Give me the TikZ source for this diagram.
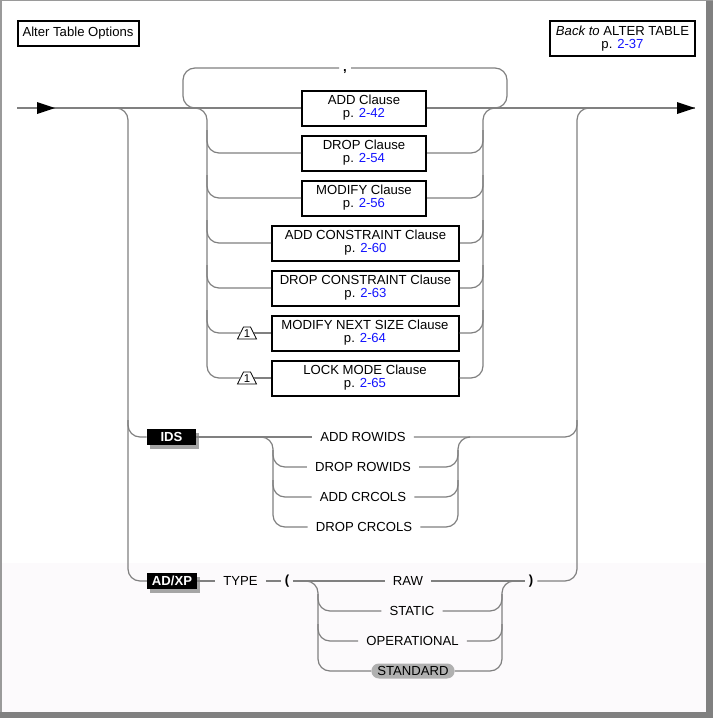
\documentclass[tikz,border=0pt]{standalone}
\usepackage{fontspec}
\setmainfont{Liberation Sans}
\usetikzlibrary{calc,shadows}
\definecolor{railc}{RGB}{128,128,128}
\definecolor{linkc}{RGB}{20,20,255}
\definecolor{framec}{RGB}{128,128,128}
\definecolor{pinkbg}{RGB}{252,250,252}
\definecolor{shadowc}{RGB}{165,165,165}
\definecolor{pillc}{RGB}{176,176,176}
\begin{document}
\begin{tikzpicture}[x=0.75pt,y=-0.75pt,
  every node/.style={font=\fontsize{9.85}{9.75}\selectfont, inner sep=0pt},
  rail/.style={draw=railc, line width=0.9pt, rounded corners=9pt},
  clause/.style={draw=black, line width=1.5pt, align=center, minimum height=26.25pt},
  lbl/.style={inner xsep=6pt},
  kw/.style={fill=black, text=white, font=\fontsize{9.85}{9.75}\selectfont\bfseries,
    minimum height=12pt, drop shadow={shadow xshift=2.25pt, shadow yshift=-3pt, fill=shadowc, opacity=1}},
  tri/.style={draw=black, line width=0.6pt, fill=white},
  arrowtip/.style={fill=black}
]
% background and frame
\fill[white] (0,0) rectangle (713,718);
\fill[pinkbg] (0,563) rectangle (713,718);
\fill[framec] (706,0) rectangle (713,718);
\fill[framec] (0,712) rectangle (713,718);
\fill[framec!80] (0,0) rectangle (2,712);
\fill[framec!80] (0,0) rectangle (713,1);
\useasboundingbox (0,0) rectangle (713,718);

% title boxes
\node[draw=black, line width=1.5pt, minimum width=121*0.75pt, minimum height=25*0.75pt] (title) at (78,33.5) {Alter Table Options};
\node[clause, minimum width=145*0.75pt] (back) at (622.5,38.5) {\textit{Back to} ALTER TABLE\\p. \textcolor{linkc}{2-37}};

% clause boxes
\node[clause, minimum width=124*0.75pt] (add) at (364,108) {ADD Clause\\p. \textcolor{linkc}{2-42}};
\node[clause, minimum width=124*0.75pt] (drop) at (364,153) {DROP Clause\\p. \textcolor{linkc}{2-54}};
\node[clause, minimum width=124*0.75pt] (modify) at (364,198) {MODIFY Clause\\p. \textcolor{linkc}{2-56}};
\node[clause, minimum width=187*0.75pt] (addc) at (365.5,243) {ADD CONSTRAINT Clause\\p. \textcolor{linkc}{2-60}};
\node[clause, minimum width=187*0.75pt] (dropc) at (365.5,288) {DROP CONSTRAINT Clause\\p. \textcolor{linkc}{2-63}};
\node[clause, minimum width=187*0.75pt] (modnext) at (365,333) {MODIFY NEXT SIZE Clause\\p. \textcolor{linkc}{2-64}};
\node[clause, minimum width=187*0.75pt] (lock) at (365,378) {LOCK MODE Clause\\p. \textcolor{linkc}{2-65}};

% footnote triangles
\draw[tri] (237.5,339) -- (256.5,339) -- (250.5,327) -- (243.5,327) -- cycle;
\node[font=\fontsize{8.5}{8.5}\selectfont] (n1) at (247,333.5) {1};
\draw[tri] (237.5,384) -- (256.5,384) -- (250.5,372) -- (243.5,372) -- cycle;
\node[font=\fontsize{8.5}{8.5}\selectfont] (n2) at (247,378.5) {1};
\coordinate (n1w) at (240.5,333);
\coordinate (n1e) at (253.5,333);
\coordinate (n2w) at (240.5,378);
\coordinate (n2e) at (253.5,378);

% main line
\coordinate (in) at (17,108);
\coordinate (out) at (695,108);
\draw[rail] (in) -- (add.west);
\draw[rail] (add.east) -- (out);
\fill[arrowtip] (37,102) -- (55,108) -- (37,114) -- cycle;
\fill[arrowtip] (677,102) -- (695,108) -- (677,114) -- cycle;

% repetition loop with comma
\node[font=\fontsize{9.85}{9.75}\selectfont\bfseries] (comma) at (345,72) {,};
\coordinate (cw) at (339,68);
\coordinate (ce) at (351,68);
\draw[rail] (cw) -| (183,108) -| (207,378) -- (n2w);
\draw[rail] (ce) -| (507,108) -| (483,378) -- (lock.east);
\draw[rail] (n2e) -- (lock.west);

% clause rows
\draw[rail] (207,130) |- (drop.west);
\draw[rail] (drop.east) -| (483,130);
\draw[rail] (207,175) |- (modify.west);
\draw[rail] (modify.east) -| (483,175);
\draw[rail] (207,220) |- (addc.west);
\draw[rail] (addc.east) -| (483,220);
\draw[rail] (207,265) |- (dropc.west);
\draw[rail] (dropc.east) -| (483,265);
\draw[rail] (207,310) |- (n1w);
\draw[rail] (n1e) -- (modnext.west);
\draw[rail] (modnext.east) -| (483,310);

% IDS branch
\node[kw, minimum width=49*0.75pt] (ids) at (171.5,437) {IDS};
\node[lbl] (r1) at (363,437) {ADD ROWIDS};
\node[lbl] (r2) at (363,467) {DROP ROWIDS};
\node[lbl] (r3) at (363,497) {ADD CRCOLS};
\node[lbl] (r4) at (364,527) {DROP CRCOLS};
\draw[rail] (113,108) -| (128,581) -- (172,581);
\draw[rail] (128,420) |- (ids.west);
\draw[rail] (ids.east) -- (r1.west);
\draw[rail] (r1.east) -| (577,420);
\draw[rail] (261,437) -| (273,527) -- (r4.west);
\draw[rail] (273,450) |- (r2.west);
\draw[rail] (273,480) |- (r3.west);
\draw[rail] (r4.east) -| (458,437) -- (470,437);
\draw[rail] (r2.east) -| (458,450);
\draw[rail] (r3.east) -| (458,480);

% AD/XP branch
\node[kw, minimum width=50*0.75pt] (adxp) at (172,581) {AD/XP};
\node[lbl] (type) at (240.5,581) {TYPE};
\node[inner xsep=2.5pt, font=\fontsize{9.85}{9.75}\selectfont\bfseries] (lp) at (287,581) {(};
\node[inner xsep=3pt, font=\fontsize{9.85}{9.75}\selectfont\bfseries] (rp) at (531,581) {)};
\node[lbl] (raw) at (408,581) {RAW};
\node[lbl] (static) at (412,611) {STATIC};
\node[lbl] (oper) at (412.5,641) {OPERATIONAL};
\node[fill=pillc, rounded corners=5.6pt, inner xsep=4.5pt, minimum height=15*0.75pt] (std) at (413,671) {STANDARD};
\draw[rail] (adxp.east) -- (type.west);
\draw[rail] (type.east) -- (lp.west);
\draw[rail] (lp.east) -- (raw.west);
\draw[rail] (raw.east) -- (rp.west);
\draw[rail] (rp.east) -| (577,108) -- (595,108);
\draw[rail] (306,581) -| (318,671) -- (std.west);
\draw[rail] (318,594) |- (static.west);
\draw[rail] (318,624) |- (oper.west);
\draw[rail] (std.east) -| (502,581) -- (514,581);
\draw[rail] (static.east) -| (502,594);
\draw[rail] (oper.east) -| (502,624);
\end{tikzpicture}
\end{document}
